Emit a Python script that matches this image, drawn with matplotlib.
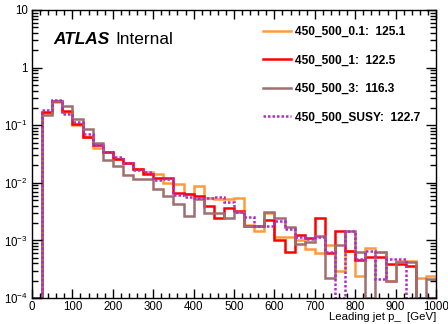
import numpy as np
import matplotlib
matplotlib.use("Agg")
import matplotlib.pyplot as plt
from matplotlib.ticker import MultipleLocator, LogLocator, FuncFormatter, NullFormatter

plt.rcParams['font.family'] = ['Liberation Sans', 'DejaVu Sans']

# leading jet pT, 25 GeV bins from 0 to 1000 (first bin empty)
edges = np.arange(0, 1001, 25)

pt_0p1 = [0.0, 0.165, 0.256, 0.172, 0.102, 0.0635, 0.0410, 0.0336, 0.0264, 0.0225, 0.0177,
          0.0151, 0.0145, 0.00976, 0.00938, 0.00630, 0.00866, 0.00537, 0.00516, 0.00516, 0.00537,
          0.00183, 0.00147, 0.00296, 0.00114, 0.00114, 0.00101, 0.000705, 0.000601, 0.000843, 0.000299,
          0.000664, 0.000245, 0.000733, 0.000625, 0.000201, 0.000437, 0.000437, 0.000222, 0.000245]
pt_1 = [0.0, 0.172, 0.267, 0.179, 0.107, 0.0635, 0.0462, 0.0336, 0.0254, 0.0217, 0.0177,
        0.0140, 0.0119, 0.0119, 0.00656, 0.00630, 0.00582, 0.00398, 0.00242, 0.00361, 0.00327,
        0.00176, 0.00176, 0.00224, 0.00101, 0.000625, 0.00123, 0.00109, 0.00242, 0.000601, 0.00147,
        0.000650, 0.000454, 0.000512, 0.000512, 0.000388, 0.000388, 0.000358, 0.0, 0.0]
pt_3 = [0.0, 0.153, 0.267, 0.218, 0.130, 0.0873, 0.0500, 0.0244, 0.0192, 0.0134, 0.0115,
        0.0115, 0.00769, 0.00582, 0.00423, 0.00268, 0.00516, 0.00296, 0.00296, 0.00242, 0.00314,
        0.00180, 0.00180, 0.00308, 0.00242, 0.00169, 0.000859, 0.000931, 0.00121, 0.000222, 0.000826,
        0.00147, 0.000625, 0.0, 0.000625, 0.000197, 0.000420, 0.000420, 0.0, 0.000213]
pt_susy = [0.0, 0.186, 0.277, 0.159, 0.115, 0.0716, 0.0462, 0.0349, 0.0286, 0.0225, 0.0170,
           0.0152, 0.0113, 0.0115, 0.00605, 0.00570, 0.00537, 0.00537, 0.00570, 0.00458, 0.00308,
           0.00252, 0.00180, 0.00180, 0.00219, 0.00156, 0.00114, 0.00105, 0.00114, 0.000625, 0.0,
           0.00147, 0.000473, 0.000664, 0.000213, 0.000473, 0.000473, 0.0, 0.0, 0.0]

names = ['450_500_0.1', '450_500_1', '450_500_3', '450_500_SUSY']
means = [125.1, 122.5, 116.3, 122.7]
colors = ['#ff9a3c', '#ff0000', '#a06e6e', '#b52cc4']
styles = ['-', '-', '-', (0, (1, 0.8))]

ymin, ymax = 1e-4, 10

fig = plt.figure(figsize=(4.48, 3.24), dpi=100)
ax = fig.add_axes([32 / 448, 26 / 324, 404 / 448, 288 / 324])

for vals, name, m, c, ls in zip([pt_0p1, pt_1, pt_3, pt_susy], names, means, colors, styles):
    # empty bins sit on the lower edge like in ROOT
    y = np.clip(np.array(vals), ymin, None)
    ax.stairs(y, edges, baseline=None, color=c, lw=1.8, ls=ls,
              label=f'{name}:  {m}')

ax.set_yscale('log')
ax.set_xlim(0, 1000)
ax.set_ylim(ymin, ymax)

ax.xaxis.set_major_locator(MultipleLocator(100))
ax.xaxis.set_minor_locator(MultipleLocator(20))
ax.yaxis.set_major_locator(LogLocator(base=10, numticks=10))
ax.yaxis.set_minor_locator(LogLocator(base=10, subs=np.arange(2, 10), numticks=20))
ax.yaxis.set_minor_formatter(NullFormatter())


def ylab(v, pos):
    e = int(round(np.log10(v)))
    if e == 1:
        return '10'
    if e == 0:
        return '1'
    return r'$\mathregular{10^{%d}}$' % e


ax.yaxis.set_major_formatter(FuncFormatter(ylab))

ax.tick_params(which='both', direction='in', top=True, right=True,
               labelsize=8.3, width=1.0, pad=3)
ax.tick_params(axis='x', pad=2)
ax.tick_params(axis='x', which='major', length=6.5)
ax.tick_params(axis='x', which='minor', length=3.5)
ax.tick_params(axis='y', which='major', length=7.5)
ax.tick_params(axis='y', which='minor', length=4)
for sp in ax.spines.values():
    sp.set_linewidth(1.0)

ax.set_xlabel('Leading jet p_  [GeV]', loc='right', fontsize=8.2)
ax.xaxis.set_label_coords(1.0, -0.05)

ax.text(0.052, 0.882, 'ATLAS', transform=ax.transAxes, fontsize=12.4,
        fontweight='bold', fontstyle='italic', va='baseline')
ax.text(0.207, 0.882, 'Internal', transform=ax.transAxes, fontsize=12.4,
        va='baseline')

leg = ax.legend(loc='upper left', bbox_to_anchor=(0.572, 0.944), frameon=False,
                prop={'weight': 'bold', 'size': 8.6}, borderpad=0, borderaxespad=0,
                handlelength=2.3, handletextpad=0.4, labelspacing=1.38)

fig.savefig('out.png', dpi=100)
